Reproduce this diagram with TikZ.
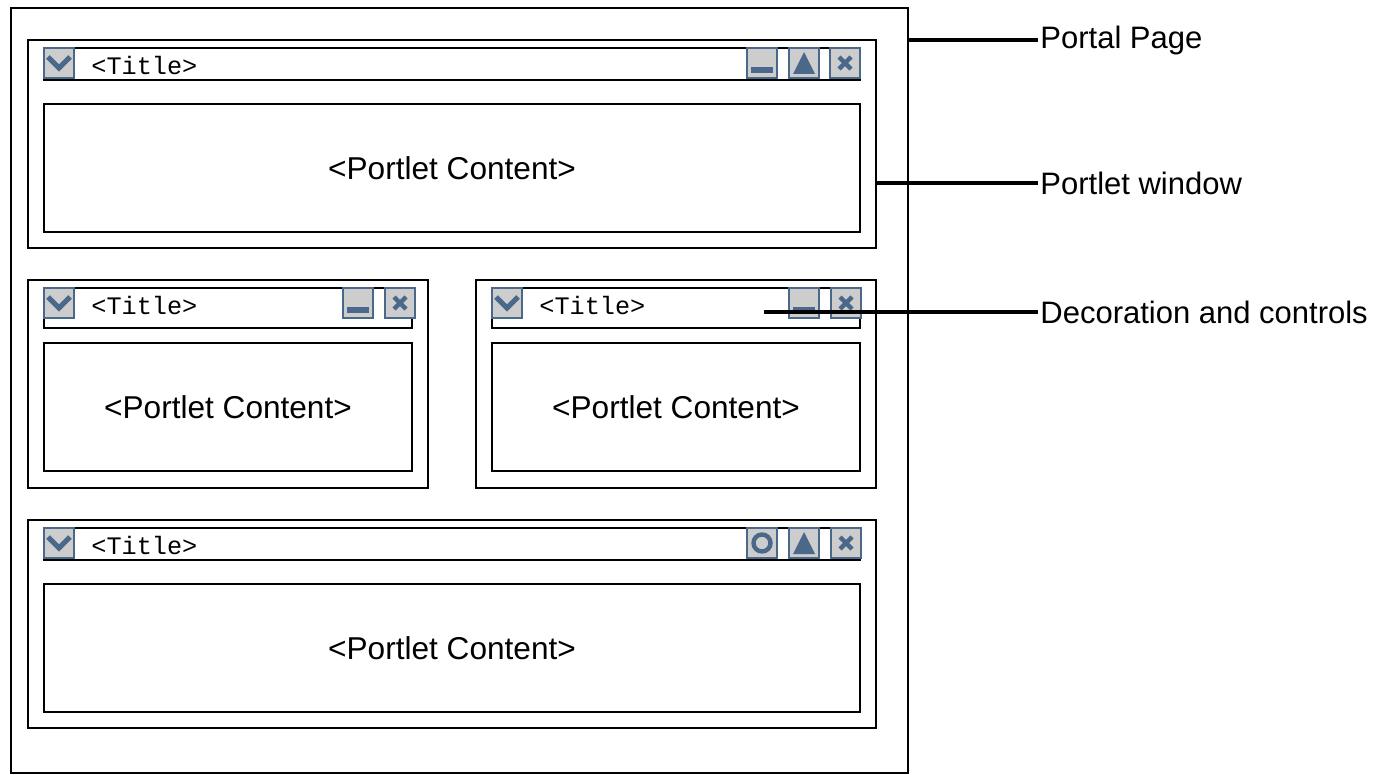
\documentclass[tikz,border=0pt]{standalone}
\usepackage{fontspec}
\usepackage{tikz}
\setmainfont{Liberation Sans}
\setmonofont{Liberation Mono}
\definecolor{icongray}{RGB}{205,205,205}
\definecolor{iconblue}{RGB}{74,104,138}

\begin{document}
\begin{tikzpicture}[x=0.5pt,y=-0.5pt,
  frame/.style={draw,rectangle,inner sep=0pt,line width=1pt},
  window/.style={frame,minimum height=104pt},
  titlebar/.style={frame,minimum height=16pt},
  content/.style={frame,minimum height=64pt,font=\fontsize{15.8pt}{19pt}\selectfont},
  title/.style={anchor=west,inner sep=0pt,font=\ttfamily\fontsize{12.6pt}{15pt}\selectfont},
  icon/.style={fill=icongray,draw=iconblue,line width=1pt},
  glyph/.style={draw=iconblue,line width=2.2pt},
  callout/.style={anchor=west,inner sep=1pt,font=\fontsize{15.5pt}{18pt}\selectfont},
  leader/.style={line width=2pt}]
\useasboundingbox (0,0) rectangle (1380,775);

\node[frame,line width=0.8pt,minimum width=448.5pt,minimum height=382.5pt] (page) at (459.5,390.5) {};

% top portlet
\node[window,minimum width=424pt] (topwin) at (452,144) {};
\node[titlebar,minimum width=408pt] (topbar) at (452,64) {};
\node[content,minimum width=408pt] (topcontent) at (452,168) {<Portlet Content>};
\node[title] (toptitle) at (91,65) {<Title>};

% middle portlets
\node[window,minimum width=200pt] (leftwin) at (228,384) {};
\node[frame,minimum width=184pt,minimum height=20pt] (leftbar) at (228,308) {};
\node[content,minimum width=184pt] (leftcontent) at (228,407) {<Portlet Content>};
\node[title] (lefttitle) at (91,305) {<Title>};

\node[window,minimum width=200pt] (rightwin) at (676,384) {};
\node[frame,minimum width=184pt,minimum height=20pt] (rightbar) at (676,308) {};
\node[content,minimum width=184pt] (rightcontent) at (676,407) {<Portlet Content>};
\node[title] (righttitle) at (539,305) {<Title>};

% bottom portlet
\node[window,minimum width=424pt] (botwin) at (452,624) {};
\node[titlebar,minimum width=408pt] (botbar) at (452,544) {};
\node[content,minimum width=408pt] (botcontent) at (452,648) {<Portlet Content>};
\node[title] (bottitle) at (91,545) {<Title>};

% controls
\foreach \x/\y in {44/48,44/288,492/288,44/528}{
  \draw[icon] (\x,\y) rectangle ++(30,30);
  \draw[glyph,line width=2.5pt] (\x+4,\y+9) -- ++(11,11) -- ++(11,-11);
}
\foreach \x/\y in {747/48,343/288,789/288}{
  \draw[icon] (\x,\y) rectangle ++(30,30);
  \fill[iconblue] (\x+4,\y+19) rectangle ++(22,6);
}
\foreach \x/\y in {789/48,789/528}{
  \draw[icon] (\x,\y) rectangle ++(30,30);
  \fill[iconblue] (\x+15,\y+4) -- (\x+26,\y+26) -- (\x+4,\y+26) -- cycle;
}
\foreach \x/\y in {830/48,385/288,831/288,831/528}{
  \draw[icon] (\x,\y) rectangle ++(30,30);
  \draw[glyph] (\x+9,\y+9) -- ++(12,12) (\x+21,\y+9) -- ++(-12,12);
}
\draw[icon] (747,528) rectangle ++(30,30);
\draw[glyph] (762,543) circle[radius=8.5];

% callouts
\node[callout] (lblpage) at (1038,40) {Portal Page};
\node[callout] (lblwin) at (1038,183) {Portlet window};
\node[callout] (lbldeco) at (1038,312) {Decoration and controls};
\coordinate (deco) at (764,312);

\draw[leader] (page.east |- lblpage.west) -- (lblpage.west);
\draw[leader] (topwin.east |- lblwin.west) -- (lblwin.west);
\draw[leader] (deco) -- (lbldeco.west);
\end{tikzpicture}
\end{document}
